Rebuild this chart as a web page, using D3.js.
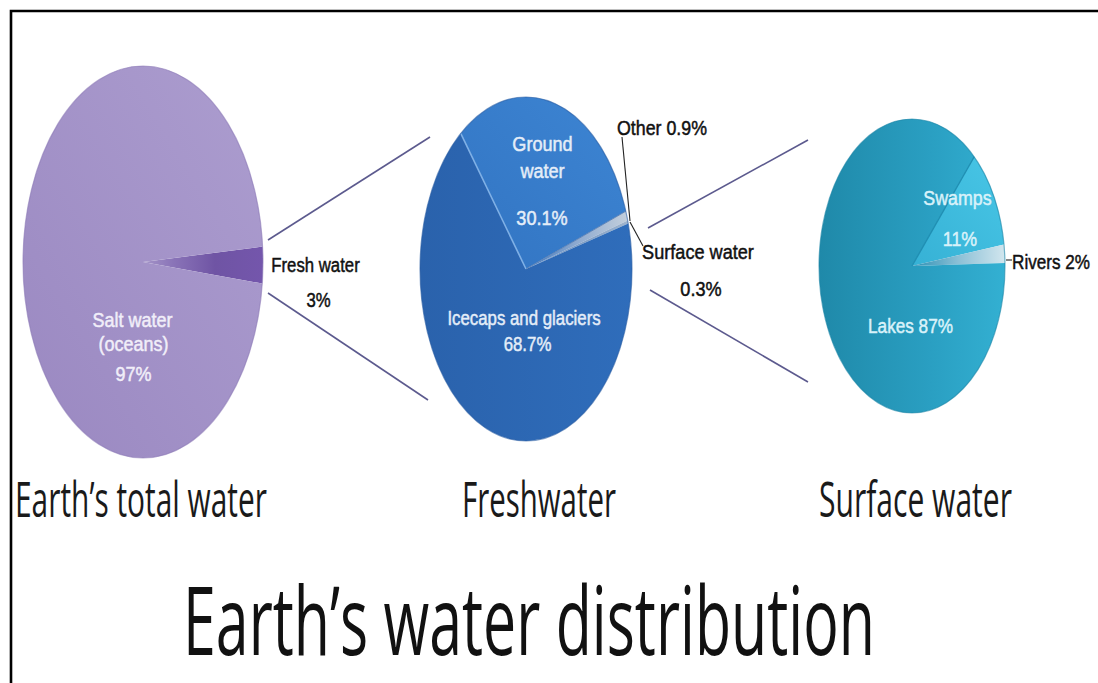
<!DOCTYPE html>
<html><head><meta charset="utf-8">
<script src="https://cdn.jsdelivr.net/npm/d3@7"></script>
<style>html,body{margin:0;padding:0;background:#fff;}svg{display:block;}</style>
</head><body>
<script>
// ---- data ----
const totalCategories = ["Fresh water", "Salt water"];
const totalValues = [3, 97];
const freshCategories = ["Ground water", "Other", "Surface water", "Icecaps and glaciers"];
const freshValues = [30.1, 0.9, 0.3, 68.7];
const surfaceCategories = ["Swamps", "Rivers", "Lakes"];
const surfaceValues = [11, 2, 87];
const panelTitles = ["Earth’s total water", "Freshwater", "Surface water"];
const chartTitle = "Earth’s water distribution";

// ---- layout ----
const W = 1098, H = 683, R = 100;
const svg = d3.select("body").append("svg").attr("width", W).attr("height", H);
svg.append("rect").attr("width", W).attr("height", H).attr("fill", "#fff");
const defs = svg.append("defs");
function grad(id, x1, y1, x2, y2, stops) {
  const g = defs.append("linearGradient").attr("id", id)
    .attr("x1", x1).attr("y1", y1).attr("x2", x2).attr("y2", y2);
  stops.forEach(s => g.append("stop").attr("offset", s[0]).attr("stop-color", s[1]));
}
grad("gSalt", 0, 1, 1, 0, [[0, "#9a88c1"], [1, "#ac9dcf"]]);
grad("gFresh", 0, 0, 1, 0, [[0, "#a595c8"], [0.25, "#8a74b8"], [0.6, "#6f54a4"], [1, "#7456ac"]]);
grad("gGround", 0, 1, 1, 0, [[0, "#3274c2"], [1, "#3d85d3"]]);
grad("gIce", 0, 0, 1, 0, [[0, "#2a62ac"], [1, "#2f6dbb"]]);
grad("gThin", 0, 0, 1, 0, [[0, "#3a76bf"], [0.5, "#8eaad0"], [1, "#c3cfdc"]]);
grad("gThin2", 0, 0, 1, 0, [[0, "#5a86bd"], [1, "#9fb4cd"]]);
grad("gLakes", 0, 0, 1, 0, [[0, "#1f89a9"], [0.6, "#2a9fc2"], [1, "#33b0d2"]]);
grad("gSwamps", 0, 1, 1, 0, [[0, "#36b1d5"], [1, "#48c6e6"]]);
grad("gRivers", 0, 0, 1, 0, [[0, "#2a8fb4"], [0.5, "#8cc0d6"], [1, "#d2e6ee"]]);

const arc = d3.arc().innerRadius(0).outerRadius(R);
const deg = Math.PI / 180;

function drawPie(vals, cfg) {
  const pie = d3.pie().sort(null).startAngle(cfg.start * deg).endAngle(cfg.start * deg + 2 * Math.PI);
  const arcs = pie(vals);
  const g = svg.append("g")
    .attr("transform", `translate(${cfg.cx},${cfg.cy}) scale(${cfg.rx / R},${cfg.ry / R})`);
  g.selectAll("path.slice").data(arcs).join("path").attr("class", "slice")
    .attr("d", arc).attr("fill", (d, i) => cfg.fills[i]);
  (cfg.edges || []).forEach(e => {
    const a = arcs[e.index].startAngle;
    g.append("line").attr("x1", 0).attr("y1", 0)
      .attr("x2", R * Math.sin(a)).attr("y2", -R * Math.cos(a))
      .attr("stroke", e.color).attr("stroke-width", e.w)
      .attr("vector-effect", "non-scaling-stroke");
  });
  g.append("ellipse").attr("rx", R).attr("ry", R).attr("fill", "none")
    .attr("stroke", cfg.rim).attr("stroke-width", 1.2).attr("stroke-opacity", 0.6)
    .attr("vector-effect", "non-scaling-stroke");
  return g;
}

drawPie(totalValues, {
  cx: 143, cy: 262, rx: 120, ry: 196, start: 85.5,
  fills: ["url(#gFresh)", "url(#gSalt)"], rim: "#8e7cb8"
});
drawPie(freshValues, {
  cx: 526, cy: 269, rx: 106, ry: 172, start: -38,
  fills: ["url(#gGround)", "url(#gThin)", "url(#gThin2)", "url(#gIce)"], rim: "#2a5ea4",
  edges: [{ index: 0, color: "#7fb0e6", w: 1.6 }, { index: 1, color: "#5e84b8", w: 1 }]
});
drawPie(surfaceValues, {
  cx: 912, cy: 266, rx: 93, ry: 147, start: 42,
  fills: ["url(#gSwamps)", "url(#gRivers)", "url(#gLakes)"], rim: "#1d86a6",
  edges: [{ index: 0, color: "#1f8fb3", w: 1.4 }]
});

// connector lines
const connectors = [
  [[268, 240], [430, 137]], [[268, 293], [428, 400]],
  [[648, 228], [808, 140]], [[650, 290], [808, 382]]
];
svg.selectAll("line.conn").data(connectors).join("line").attr("class", "conn")
  .attr("x1", d => d[0][0]).attr("y1", d => d[0][1]).attr("x2", d => d[1][0]).attr("y2", d => d[1][1])
  .attr("stroke", "#5c5a8e").attr("stroke-width", 1.6);

// leader lines
const leaders = [
  [[622, 137], [630, 221]], [[630, 222], [643, 246]], [[1006, 260], [1012, 260]]
];
svg.selectAll("line.lead").data(leaders).join("line").attr("class", "lead")
  .attr("x1", d => d[0][0]).attr("y1", d => d[0][1]).attr("x2", d => d[1][0]).attr("y2", d => d[1][1])
  .attr("stroke", "#222").attr("stroke-width", 1.1);

// multi-line labels: each block is one <text>, lines are tspans centred on given x,
// horizontally scaled so the lines match the widths seen in the picture
function block(lines, cx, color, size, weight, family, halo) {
  const t = svg.append("text").attr("fill", color)
    .attr("font-family", family).attr("font-size", size)
    .attr("font-weight", weight).attr("text-anchor", "middle");
  if (halo) t.attr("stroke", color).attr("stroke-width", halo);
  const spans = lines.map(l => t.append("tspan").attr("x", 0).attr("y", l.y).text(l.t));
  const ratios = spans.map((s, i) => lines[i].w / s.node().getComputedTextLength());
  const sx = d3.mean(ratios);
  spans.forEach((s, i) => s.attr("x", (lines[i].c - cx) / sx));
  t.attr("transform", `translate(${cx},0) scale(${sx},1)`);
  return t;
}

const pct = v => `${v}%`;
const WHITE1 = "#f1eef9", WHITE2 = "#e4edf8", WHITE3 = "#d9f2fa", INK = "#111";
const LF = "'Liberation Sans', Arial, sans-serif", LS = 21, LW = 400, HALO = 0.5;
const TF = "'Open Sans', sans-serif";

block([{ t: "Salt water", y: 327, w: 81, c: 132.5 },
       { t: "(oceans)", y: 351, w: 67, c: 133.5 },
       { t: pct(totalValues[1]), y: 381, w: 37, c: 133.5 }], 133, WHITE1, LS, LW, LF, HALO);
block([{ t: totalCategories[0], y: 272, w: 93, c: 315.5 },
       { t: pct(totalValues[0]), y: 307, w: 23, c: 318.5 }], 316, INK, LS, LW, LF, HALO);
block([{ t: "Ground", y: 151, w: 61, c: 542.5 },
       { t: "water", y: 178, w: 45, c: 542.5 },
       { t: pct(freshValues[0]), y: 225, w: 50, c: 542 }], 542.5, WHITE2, LS, LW, LF, HALO);
block([{ t: freshCategories[3], y: 325, w: 162, c: 524 },
       { t: pct(freshValues[3]), y: 351, w: 45, c: 527.5 }], 525, WHITE2, LS, LW, LF, HALO);
block([{ t: `${freshCategories[1]} ${pct(freshValues[1])}`, y: 135, w: 90, c: 662 }], 662, INK, LS, LW, LF, HALO);
block([{ t: freshCategories[2], y: 259, w: 110, c: 698 },
       { t: pct(freshValues[2]), y: 296, w: 42, c: 701 }], 699, INK, LS, LW, LF, HALO);
block([{ t: surfaceCategories[0], y: 205, w: 69, c: 957.5 },
       { t: pct(surfaceValues[0]), y: 246, w: 34, c: 960 }], 958, WHITE3, LS, LW, LF, HALO);
block([{ t: `${surfaceCategories[1]} ${pct(surfaceValues[1])}`, y: 269, w: 78, c: 1051 }], 1051, INK, LS, LW, LF, HALO);
block([{ t: `${surfaceCategories[2]} ${pct(surfaceValues[2])}`, y: 333, w: 85, c: 910.5 }], 910.5, WHITE3, LS, LW, LF, HALO);

// panel titles
const titleCentres = [141, 539, 915.5], titleWidths = [252, 154, 193];
panelTitles.forEach((t, i) =>
  block([{ t, y: 517, w: titleWidths[i], c: titleCentres[i] }], titleCentres[i], "#1a1a1a", 49, 500, TF));

// main title
block([{ t: chartTitle, y: 655, w: 692, c: 529 }], 529, INK, 95, 500, TF);

// frame
svg.append("path").attr("d", `M11,${H} L11,11 L${W},11`).attr("fill", "none")
  .attr("stroke", "#000").attr("stroke-width", 2.6);
</script>
</body></html>
